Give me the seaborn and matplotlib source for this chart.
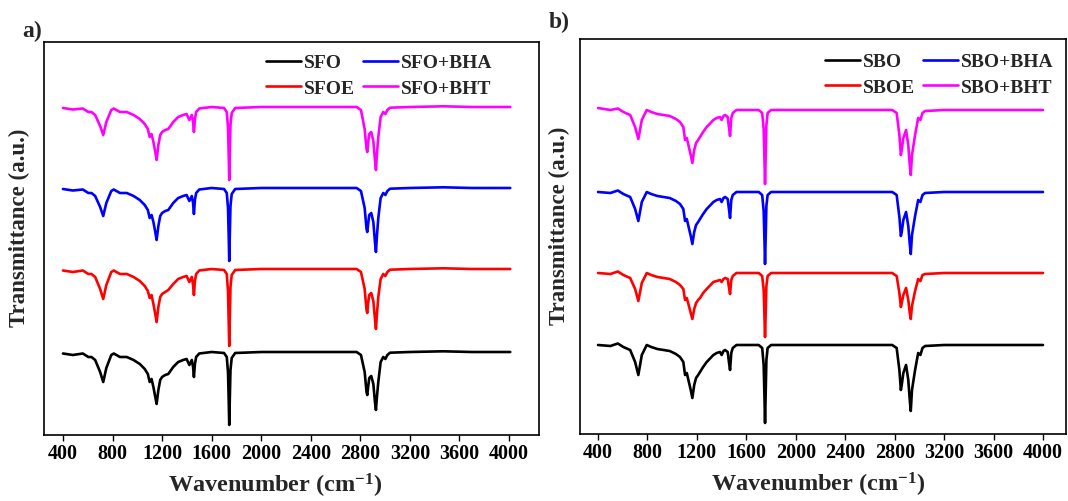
import matplotlib
matplotlib.use("Agg")
import numpy as np
import pandas as pd
import matplotlib.pyplot as plt
import seaborn as sns

# panel a: sunflower oil spectra (dip below each curve's own baseline, a.u.)
WN_A = [
    400, 480, 560, 605, 630, 660, 700, 725, 750, 790,
    810, 860, 915, 970, 1020, 1060, 1085, 1100, 1115, 1130,
    1145, 1156, 1170, 1185, 1200, 1225, 1250, 1290, 1330, 1370,
    1398, 1420, 1440, 1450, 1457, 1465, 1475, 1500, 1600, 1700,
    1722, 1732, 1738, 1742, 1746, 1752, 1762, 1790, 2000, 2400,
    2770, 2805, 2835, 2850, 2856, 2863, 2872, 2888, 2905, 2918,
    2926, 2934, 2945, 2964, 2985, 3002, 3018, 3040, 3200, 3470,
    3700, 4010,
]
SFO = [
    1.5, 3, 1.5, 5, 5, 8, 20, 30, 16, 3,
    1.5, 5, 5, 8, 12, 17, 22, 30, 27, 35,
    45, 52, 38, 28, 25, 23, 22, 15, 10, 8,
    7, 13, 8, 15, 25, 12, 5, 1.5, 0, 1,
    5, 20, 50, 73, 50, 18, 6, 1, 0, 0,
    0, 3, 20, 40, 43, 35, 26, 24, 32, 50,
    58, 45, 30, 10, 5, 7, 3, 0.7, 0, -0.7,
    0, 0,
]
SFOE = [
    1.5, 3, 1.5, 5, 5, 8, 20, 30, 16, 3,
    1.5, 5, 5, 8, 12, 17, 22, 29, 26, 35,
    45, 53, 38, 28, 25, 23, 21, 15, 10, 8,
    7, 13, 8, 16, 26, 12, 5, 1.5, 0, 1,
    5, 22, 55, 77, 52, 18, 6, 1, 0, 0,
    0, 3, 20, 41, 44, 34, 26, 24, 32, 50,
    60, 45, 28, 10, 5, 7, 3, 0.7, 0, -0.7,
    0, 0,
]
SFO_BHA = [
    1, 2.5, 1.5, 5, 5, 8, 19, 28, 15, 3,
    1.5, 5, 5, 8, 12, 17, 22, 30, 27, 34,
    44, 52, 38, 28, 25, 23, 22, 15, 10, 8,
    7, 13, 8, 15, 26, 12, 5, 1.5, 0, 1,
    5, 20, 50, 73, 50, 18, 6, 1, 0, 0,
    0, 3, 20, 41, 44, 36, 27, 25, 34, 54,
    64, 48, 30, 10, 5, 7, 3, 0.7, 0, -0.7,
    0, 0,
]
SFO_BHT = [
    1, 2.5, 1.5, 5, 5, 8, 19, 28, 15, 3,
    1.5, 5, 5, 8, 12, 17, 22, 30, 27, 35,
    45, 53, 38, 28, 25, 23, 22, 15, 10, 8,
    7, 13, 8, 15, 25, 12, 5, 1.5, 0, 1,
    5, 20, 50, 73, 50, 18, 6, 1, 0, 0,
    0, 3, 22, 42, 45, 36, 27, 25, 34, 53,
    63, 47, 30, 10, 5, 7, 3, 0.7, 0, -0.7,
    0, 0,
]

# panel b: soybean oil spectra
WN_B = [
    400, 500, 560, 605, 632, 660, 700, 726, 754, 794,
    830, 880, 930, 980, 1030, 1063, 1090, 1104, 1118, 1131,
    1150, 1163, 1178, 1193, 1210, 1225, 1250, 1279, 1310, 1333,
    1360, 1387, 1400, 1415, 1428, 1449, 1460, 1468, 1478, 1490,
    1520, 1600, 1700, 1728, 1740, 1746, 1751, 1756, 1762, 1772,
    1800, 2000, 2400, 2780, 2816, 2838, 2850, 2857, 2870, 2892,
    2910, 2922, 2930, 2940, 2965, 2990, 3008, 3025, 3046, 3200,
    3500, 3800, 4000,
]
SBO = [
    0, 1, -1.5, 2, 3.5, 5, 17, 30, 10, 0,
    2, 4, 5, 6, 9, 12, 17, 30, 28, 35,
    45, 53, 40, 33, 30, 27, 22, 17, 13, 10,
    8, 7, 10, 6, 5, 7, 18, 25, 8, 3,
    0, 0, 0, 3, 20, 50, 78, 50, 15, 3,
    0, 0, 0, 0, 3, 25, 45, 40, 28, 20,
    35, 55, 66, 45, 25, 8, 10, 3, 1, 0,
    0, 0, 0,
]
SBOE = [
    0, 1, -1.5, 2, 3.5, 5, 16, 28, 10, 0,
    2, 4, 5, 6, 9, 12, 16, 27, 25, 31,
    40, 46, 36, 30, 27, 25, 20, 16, 12, 9,
    8, 7, 9, 6, 5, 6, 15, 21, 7, 3,
    0, 0, 0, 3, 17, 42, 64, 42, 13, 3,
    0, 0, 0, 0, 3, 20, 34, 30, 22, 15,
    27, 40, 46, 33, 18, 6, 8, 2, 1, 0,
    0, 0, 0,
]
SBO_BHA = [
    0, 1, -1.5, 2, 3.5, 5, 17, 29, 10, 0,
    2, 4, 5, 6, 9, 12, 17, 29, 27, 34,
    44, 52, 40, 33, 30, 27, 22, 17, 13, 10,
    8, 7, 10, 6, 5, 7, 18, 26, 8, 3,
    0, 0, 0, 3, 19, 47, 72, 47, 14, 3,
    0, 0, 0, 0, 3, 25, 44, 40, 28, 20,
    34, 52, 62, 43, 24, 8, 10, 3, 1, 0,
    0, 0, 0,
]
SBO_BHT = [
    -2, 0, -1.5, 2, 3.5, 5, 17, 29, 10, 0,
    2, 4, 5, 6, 9, 12, 17, 30, 28, 35,
    45, 53, 40, 33, 30, 27, 22, 17, 13, 10,
    8, 7, 10, 6, 5, 7, 18, 26, 8, 3,
    0, 0, 0, 3, 19, 48, 74, 48, 15, 3,
    0, 0, 0, 0, 3, 25, 45, 40, 28, 20,
    35, 55, 65, 45, 25, 8, 10, 3, 1, 0,
    0, 0, 0,
]

LABELS_A = ["SFO", "SFOE", "SFO+BHA", "SFO+BHT"]
LABELS_B = ["SBO", "SBOE", "SBO+BHA", "SBO+BHT"]
COLORS = ["#000000", "#FF0000", "#0000FF", "#FF00FF"]
OFFSETS_A = [83, 166, 247, 328]
OFFSETS_B = [89, 161, 242, 324]
XTICKS = list(range(400, 4001, 400))


def stack_frame(wn, series, labels, offsets):
    parts = []
    for vals, lab, off in zip(series, labels, offsets):
        parts.append(pd.DataFrame({
            "wn": wn,
            "T": off - np.asarray(vals, dtype=float),
            "sample": lab,
        }))
    return pd.concat(parts, ignore_index=True)


def draw_panel(ax, df, labels, xlim, ylim, leg_anchor):
    sns.lineplot(
        data=df, x="wn", y="T", hue="sample", hue_order=labels,
        palette=dict(zip(labels, COLORS)), estimator=None, sort=False,
        linewidth=1.9, ax=ax,
    )
    ax.set_xlim(*xlim)
    ax.set_ylim(*ylim)
    ax.set_xticks(XTICKS)
    ax.set_yticks([])
    ax.tick_params(axis="x", bottom=True, direction="out", length=4, width=1,
                   labelsize=14.5, pad=2, colors="black")
    for lab in ax.get_xticklabels():
        lab.set_fontweight("bold")
    for sp in ax.spines.values():
        sp.set_visible(True)
        sp.set_color("black")
        sp.set_linewidth(1.2)
    ax.set_xlabel("Wavenumber (cm$^{-1}$)", fontsize=17.5, fontweight="bold")
    ax.set_ylabel("Transmittance (a.u.)", fontsize=16.5, fontweight="bold")

    handles, labs = ax.get_legend_handles_labels()
    ax.legend(handles, labs, ncol=2, loc="upper right", bbox_to_anchor=leg_anchor,
              frameon=False, handlelength=1.8, handletextpad=0.15,
              columnspacing=0.4, labelspacing=0.4, borderpad=0, borderaxespad=0,
              prop={"weight": "bold", "size": 14})


sns.set_theme(style="white")
plt.rcParams["font.family"] = ["Liberation Serif", "DejaVu Serif"]
plt.rcParams["font.weight"] = "bold"
plt.rcParams["mathtext.fontset"] = "custom"
plt.rcParams["mathtext.rm"] = "Liberation Serif:bold"
plt.rcParams["mathtext.it"] = "Liberation Serif:bold"
plt.rcParams["mathtext.bf"] = "Liberation Serif:bold"

fig = plt.figure(figsize=(10.68, 5.02), dpi=100)
ax_a = fig.add_axes([44 / 1068, 66 / 502, 495 / 1068, 393 / 502])
ax_b = fig.add_axes([580 / 1068, 67 / 502, 486 / 1068, 395 / 502])

df_a = stack_frame(WN_A, [SFO, SFOE, SFO_BHA, SFO_BHT], LABELS_A, OFFSETS_A)
df_b = stack_frame(WN_B, [SBO, SBOE, SBO_BHA, SBO_BHT], LABELS_B, OFFSETS_B)

draw_panel(ax_a, df_a, LABELS_A, (247, 4242), (0, 393), (0.905, 0.97))
draw_panel(ax_b, df_b, LABELS_B, (254, 4186), (0, 395), (0.975, 0.965))

ax_a.xaxis.set_label_coords(0.467, -0.09)
ax_b.xaxis.set_label_coords(0.49, -0.09)
ax_a.yaxis.set_label_coords(-0.028, 0.53)
ax_b.yaxis.set_label_coords(-0.02, 0.53)

fig.text(32 / 1068, 1 - 31 / 502, "a)", fontsize=17, fontweight="bold", ha="center", va="center")
fig.text(559 / 1068, 1 - 22 / 502, "b)", fontsize=17, fontweight="bold", ha="center", va="center")

fig.savefig("out.png", dpi=100)
